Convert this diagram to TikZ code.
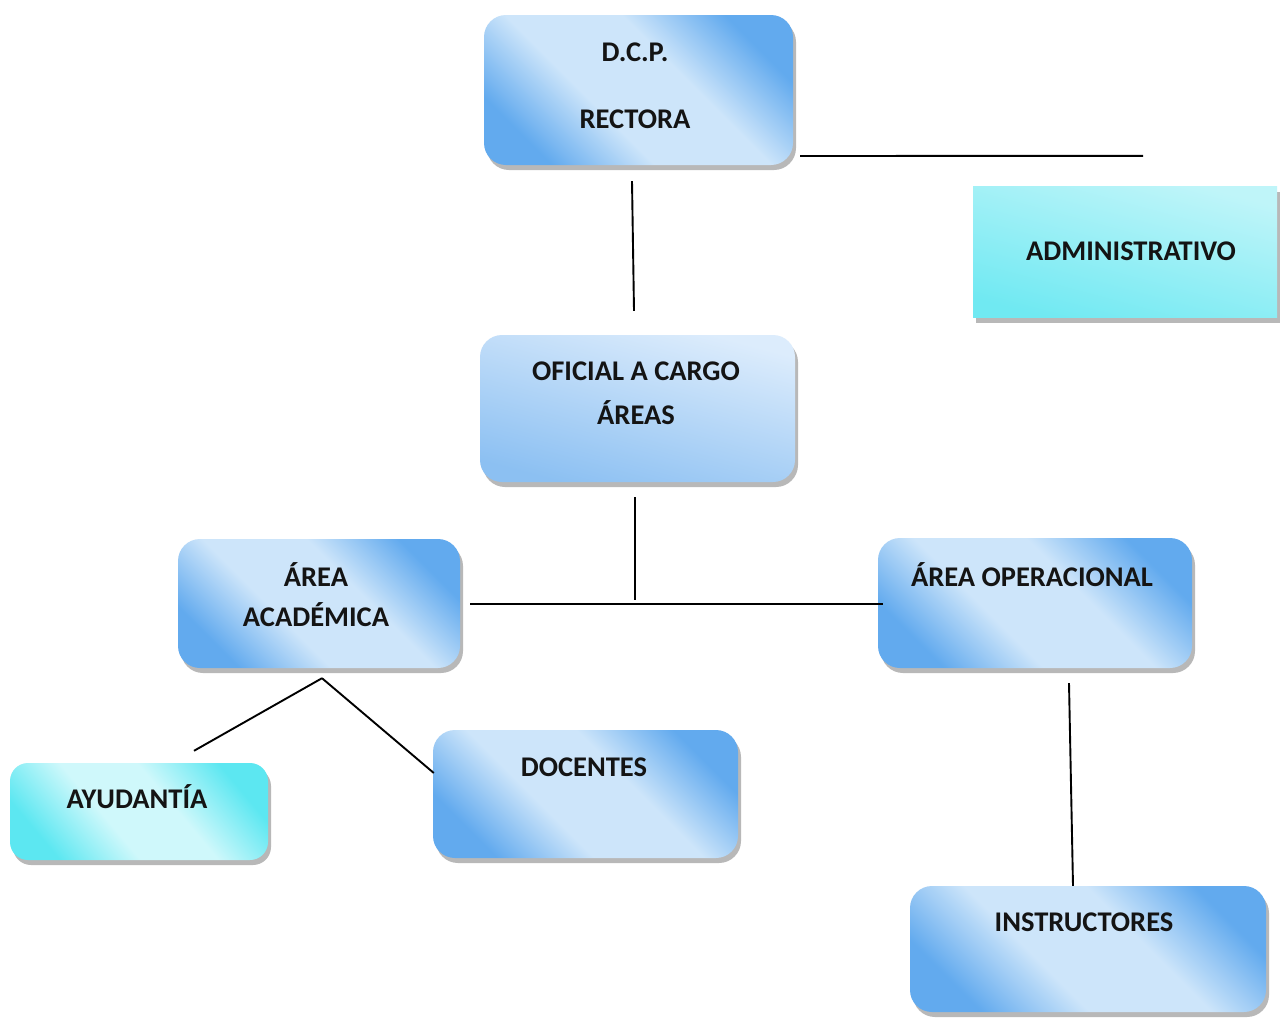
\documentclass[tikz,border=0pt]{standalone}
\usepackage{fontspec}
\setmainfont{Carlito}
\usetikzlibrary{shadows,calc}
\definecolor{bdark}{HTML}{62AAEE}
\definecolor{blight}{HTML}{CDE5FA}
\definecolor{otop}{HTML}{DCECFC}
\definecolor{obot}{HTML}{8CC0F2}
\definecolor{cdark}{HTML}{5CE7F1}
\definecolor{clight}{HTML}{CFF8FB}
\definecolor{atop}{HTML}{BFF5F9}
\definecolor{abot}{HTML}{70E9F2}
\pgfdeclareverticalshading{bluediagshade}{100bp}{color(0bp)=(bdark); color(25bp)=(bdark); color(41bp)=(blight); color(59bp)=(blight); color(75bp)=(bdark); color(100bp)=(bdark)}
\pgfdeclareverticalshading{cyandiagshade}{100bp}{color(0bp)=(cdark); color(25bp)=(cdark); color(42bp)=(clight); color(58bp)=(clight); color(75bp)=(cdark); color(100bp)=(cdark)}
\tikzset{
  boxbase/.style={rectangle, inner sep=0pt, draw=none,
    drop shadow={shadow xshift=3pt, shadow yshift=-5pt, fill=black!55, opacity=0.5}},
  bluebox/.style={boxbase, rounded corners=22pt, shading=bluediagshade, shading angle=-45},
  offbox/.style={boxbase, rounded corners=22pt, top color=otop, bottom color=obot, shading angle=-15},
  cyanbox/.style={boxbase, rounded corners=18pt, shading=cyandiagshade, shading angle=-50},
  adminbox/.style={boxbase, rounded corners=0pt, top color=atop, bottom color=abot, shading angle=-15},
  lbl/.style={font=\bfseries\fontsize{28.5}{32}\selectfont, text=black!92, inner sep=0pt, anchor=center},
  conn/.style={line width=1.9pt, black}
}
\begin{document}
\begin{tikzpicture}[x=1pt,y=-1pt]
\useasboundingbox[fill=white] (0,0) rectangle (1280,1021);
% boxes
\node[bluebox, minimum width=309pt, minimum height=150pt] (dcp) at (638.5,90) {};
\node[adminbox, minimum width=304pt, minimum height=131pt] (adm) at (1125,252) {};
\node[offbox, minimum width=315pt, minimum height=147pt] (ofi) at (637.5,408.5) {};
\node[bluebox, minimum width=282pt, minimum height=129pt] (aca) at (319,603.5) {};
\node[bluebox, minimum width=314pt, minimum height=130pt] (ope) at (1035,603) {};
\node[cyanbox, minimum width=258pt, minimum height=97pt] (ayu) at (139,811.5) {};
\node[bluebox, minimum width=305pt, minimum height=128pt] (doc) at (585.5,794) {};
\node[bluebox, minimum width=356pt, minimum height=126pt] (ins) at (1088,949) {};
% texts
\node[lbl] (t1) at (635,52) {D.C.P.};
\node[lbl] (t2) at (635,119) {RECTORA};
\node[lbl] (t3) at (1131,251) {ADMINISTRATIVO};
\node[lbl] (t4) at (636,371) {OFICIAL A CARGO};
\node[lbl] (t5) at (636,413) {ÁREAS};
\node[lbl] (t6) at (316,575) {ÁREA};
\node[lbl] (t7) at (316,615) {ACADÉMICA};
\node[lbl] (t8) at (1032,575) {ÁREA OPERACIONAL};
\node[lbl] (t9) at (137,797) {AYUDANTÍA};
\node[lbl] (t10) at (584,767) {DOCENTES};
\node[lbl] (t11) at (1084,922) {INSTRUCTORES};
% connectors
\coordinate (admend) at ($(adm.north)+(18,-30.5)$);
\coordinate (junc) at ($(ofi.south)+(-2.5,118)$);
\draw[conn] ($(dcp.east)+(7,66)$) -- (admend);
\draw[conn] ($(dcp.south)+(-6.5,16)$) -- ($(ofi.north)+(-3.5,-24)$);
\draw[conn] ($(ofi.south)+(-2.5,15)$) -- (junc);
\draw[conn] ($(aca.east)+(10,0.5)$) -- ($(ope.west)+(5,1)$);
\draw[conn] ($(aca.south)+(3,10)$) -- ($(ayu.north)+(55,-12)$);
\draw[conn] ($(aca.south)+(3,10)$) -- ($(doc.west)+(1,-21)$);
\draw[conn] ($(ope.south)+(34,15)$) -- ($(ins.north)+(-15,0)$);
\end{tikzpicture}
\end{document}
